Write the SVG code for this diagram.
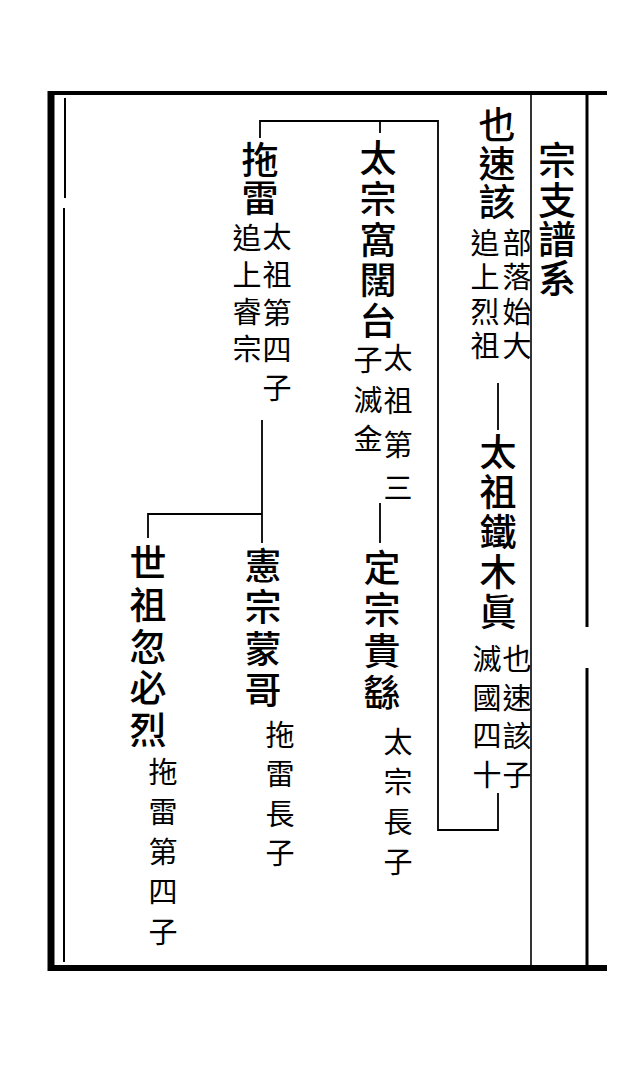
<svg xmlns="http://www.w3.org/2000/svg" width="630" height="1068" viewBox="0 0 630 1068">
<style>
  text { font-family: "Noto Sans CJK TC", "Noto Sans CJK SC", sans-serif; fill: #000; writing-mode: vertical-rl; text-anchor: start; }
  .big { font-size: 37px; font-weight: 500; }
  .title { font-size: 38px; font-weight: 500; }
  .note { font-size: 29px; font-weight: 400; }
  .ln { stroke: #000; stroke-width: 1.8; fill: none; }
  .frame { stroke: #000; fill: none; }
</style>
<rect x="0" y="0" width="630" height="1068" fill="#fff"/>
<g id="frame">
  <line class="frame" x1="48" y1="93" x2="607" y2="93" stroke-width="4"/>
  <line class="frame" x1="48" y1="968" x2="607" y2="968" stroke-width="6"/>
  <line class="frame" x1="51" y1="91" x2="51" y2="971" stroke-width="7"/>
  <line class="frame" x1="65" y1="98" x2="65" y2="198" stroke-width="2"/>
  <line class="frame" x1="64" y1="208" x2="64" y2="962" stroke-width="2"/>
  <line class="frame" x1="531" y1="95" x2="531" y2="968" stroke-width="1.6"/>
  <line class="frame" x1="587" y1="95" x2="587" y2="627" stroke-width="3"/>
  <line class="frame" x1="587" y1="668" x2="587" y2="968" stroke-width="3"/>
</g>
<g id="n-title">
  <text class="title" x="557" y="141" letter-spacing="1.3">宗支譜系</text>
</g>
<g id="n-yesugei">
  <text class="big" x="497" y="106.5" letter-spacing="1.5">也速該</text>
  <text class="note" x="517" y="228.5" letter-spacing="5.3">部落始大</text>
  <text class="note" x="485" y="228.5" letter-spacing="5.3">追上烈祖</text>
</g>
<g id="n-temujin">
  <text class="big" x="498" y="433.5" letter-spacing="3">太祖鐵木眞</text>
  <text class="note" x="517" y="644.5" letter-spacing="9.7">也速該子</text>
  <text class="note" x="487" y="644.5" letter-spacing="9.7">滅國四十</text>
</g>
<g id="n-ogedei">
  <text class="big" x="378" y="139.5" letter-spacing="3.75">太宗窩闊台</text>
  <text class="note" x="398" y="343.5" letter-spacing="14.3">太祖第三</text>
  <text class="note" x="368" y="345.5" letter-spacing="10.5">子滅金</text>
</g>
<g id="n-tolui">
  <text class="big" x="260" y="141.5" letter-spacing="1">拖雷</text>
  <text class="note" x="277" y="222.5" letter-spacing="8.75">太祖第四子</text>
  <text class="note" x="247" y="223.5" letter-spacing="8">追上睿宗</text>
</g>
<g id="n-guyuk">
  <text class="big" x="382" y="549.5" letter-spacing="4.7">定宗貴繇</text>
  <text class="note" x="398" y="727.5" letter-spacing="11">太宗長子</text>
</g>
<g id="n-mongke">
  <text class="big" x="263" y="547.5" letter-spacing="4.3">憲宗蒙哥</text>
  <text class="note" x="280" y="720.5" letter-spacing="10.3">拖雷長子</text>
</g>
<g id="n-kublai">
  <text class="big" x="148" y="544.5" letter-spacing="4.75">世祖忽必烈</text>
  <text class="note" x="163" y="757.5" letter-spacing="11">拖雷第四子</text>
</g>
<g id="connectors">
  <line class="ln" x1="498" y1="383" x2="498" y2="430"/>
  <polyline class="ln" points="498,793 498,830 438,830 438,121 260,121 260,138"/>
  <line class="ln" x1="380" y1="121" x2="380" y2="133"/>
  <line class="ln" x1="380" y1="503" x2="380" y2="543"/>
  <line class="ln" x1="262" y1="420" x2="262" y2="543"/>
  <polyline class="ln" points="262,514 148,514 148,538"/>
</g>
</svg>
